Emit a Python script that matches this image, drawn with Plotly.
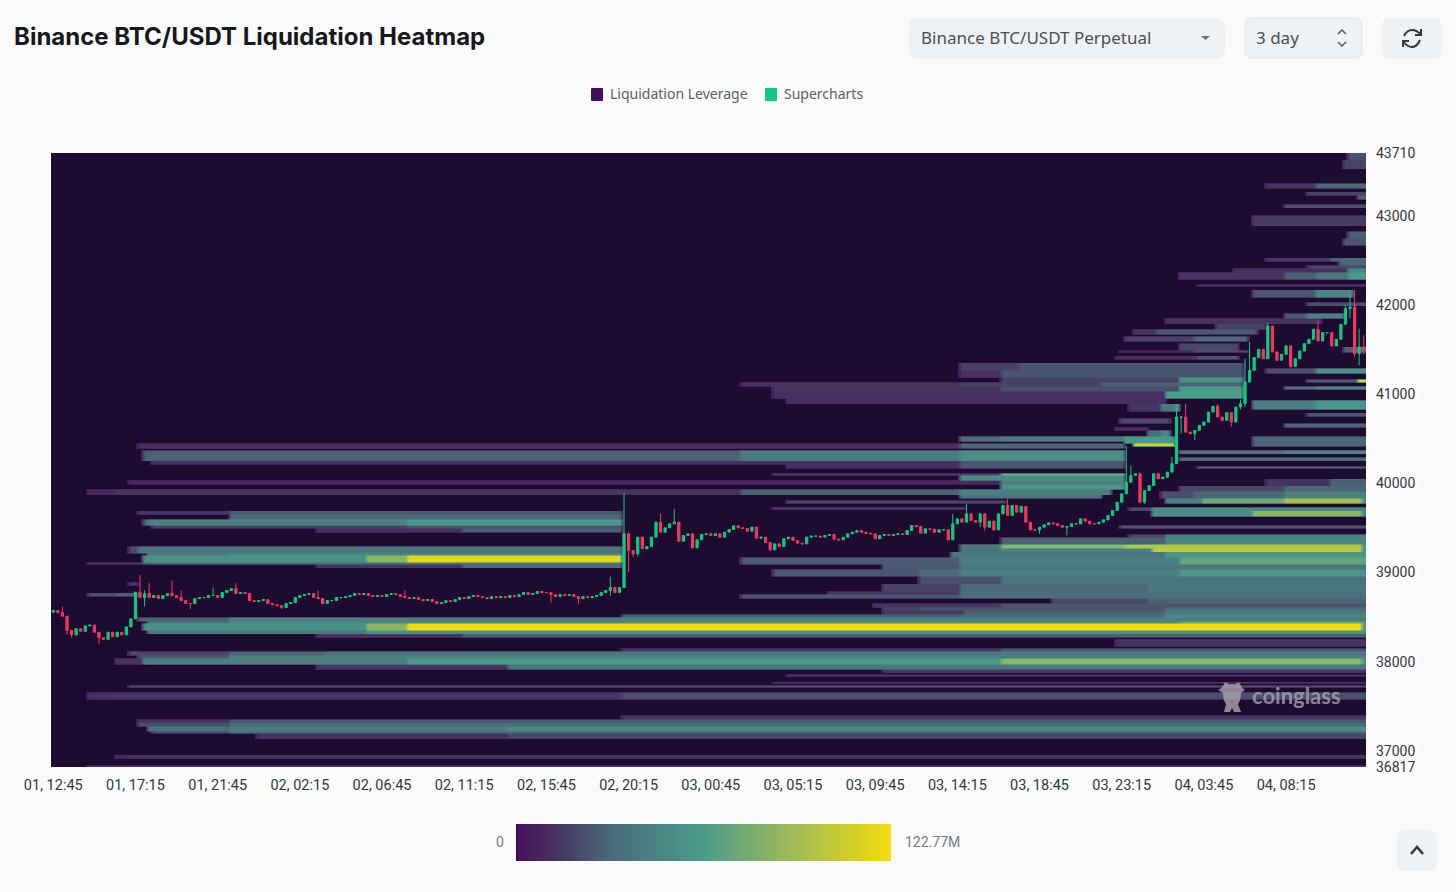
import re
import plotly.graph_objects as go

# ---- data ----
time_ticks = [0, 18, 36, 54, 72, 90, 108, 126, 144, 162, 180, 198, 216, 234, 252, 270]
time_labels = ["01, 12:45", "01, 17:15", "01, 21:45", "02, 02:15", "02, 06:45", "02, 11:15",
               "02, 15:45", "02, 20:15", "03, 00:45", "03, 05:15", "03, 09:45", "03, 14:15",
               "03, 18:45", "03, 23:15", "04, 03:45", "04, 08:15"]
price_ticks = [36817, 37000, 38000, 39000, 40000, 41000, 42000, 43000, 43710]

first_open = 38555
closes = [
    38575, 38550, 38510, 38350, 38300, 38370, 38340, 38400, 38410, 38330,
    38270, 38250, 38330, 38280, 38330, 38300, 38390, 38480, 38780, 38719,
    38764, 38719, 38742, 38708, 38742, 38764, 38742, 38719, 38685, 38652,
    38652, 38708, 38719, 38719, 38742, 38742, 38719, 38775, 38798, 38820,
    38764, 38775, 38764, 38685, 38674, 38685, 38697, 38652, 38640, 38629,
    38607, 38652, 38663, 38719, 38742, 38753, 38764, 38719, 38708, 38652,
    38685, 38685, 38719, 38719, 38730, 38742, 38764, 38753, 38764, 38742,
    38730, 38742, 38730, 38753, 38764, 38753, 38730, 38719, 38708, 38719,
    38697, 38685, 38697, 38674, 38652, 38663, 38685, 38674, 38697, 38719,
    38708, 38730, 38742, 38730, 38719, 38708, 38730, 38719, 38730, 38719,
    38742, 38730, 38753, 38775, 38753, 38764, 38787, 38775, 38775, 38753,
    38730, 38753, 38742, 38753, 38730, 38708, 38730, 38719, 38730, 38742,
    38775, 38798, 38831, 38775, 38831, 39435, 39247, 39210, 39397, 39266,
    39292, 39397, 39566, 39453, 39502, 39547, 39566, 39352, 39416, 39435,
    39277, 39367, 39427, 39435, 39416, 39435, 39397, 39453, 39483, 39525,
    39502, 39495, 39465, 39510, 39386, 39397, 39337, 39255, 39322, 39292,
    39379, 39397, 39360, 39330, 39322, 39397, 39409, 39409, 39397, 39416,
    39427, 39375, 39367, 39397, 39435, 39453, 39472, 39453, 39442, 39435,
    39379, 39416, 39427, 39416, 39427, 39435, 39427, 39472, 39528, 39517,
    39442, 39491, 39487, 39453, 39480, 39480, 39367, 39547, 39603, 39566,
    39659, 39584, 39566, 39659, 39509, 39577, 39479, 39659, 39753, 39640,
    39753, 39678, 39742, 39566, 39479, 39479, 39509, 39536, 39558, 39547,
    39528, 39509, 39517, 39547, 39547, 39603, 39577, 39547, 39547, 39566,
    39592, 39640, 39697, 39790, 39884, 40015, 40090, 40109, 39790, 39921,
    39977, 40109, 40052, 40071, 40127, 40222, 40746, 40746, 40577, 40559,
    40596, 40652, 40690, 40802, 40866, 40746, 40708, 40795, 40690, 40858,
    40896, 41139, 41270, 41413, 41506, 41401, 41768, 41476, 41383, 41450,
    41544, 41315, 41401, 41487, 41570, 41619, 41731, 41600, 41693, 41693,
    41544, 41619, 41787, 41963, 41982, 41458, 41532, 41495,
]

# the longer wicks, by candle number
high_cols = [2, 19, 20, 21, 26, 28, 35, 40, 58, 77, 122, 125, 126, 133, 136, 197, 200, 209, 235, 236,
             238, 245, 246, 248, 255, 260, 261, 262, 266, 267, 277, 283, 284, 285, 286, 287]
high_prices = [38618, 38970, 38800, 38880, 38910, 38800, 38830, 38880, 38800, 38800, 38955, 39890, 39450,
               39660, 39716, 39660, 39771, 39828, 40420, 40200, 40125, 40300, 40840, 40896, 40890, 40940,
               41401, 41588, 41810, 41738, 41832, 42000, 42132, 42169, 41738, 41663]
low_cols = [3, 4, 10, 12, 20, 30, 50, 109, 115, 122, 125, 126, 127, 128, 140, 157, 203, 204, 206, 216,
            222, 235, 238, 239, 247, 250, 258, 260, 261, 262, 266, 271, 284, 285, 286, 287]
low_prices = [38300, 38270, 38200, 38240, 38620, 38590, 38590, 38660, 38650, 38740, 38830, 39004, 39170,
              39180, 39270, 39240, 39510, 39470, 39470, 39434, 39416, 39890, 39780, 39771, 40560, 40484,
              40640, 40830, 40858, 41200, 41410, 41300, 41850, 41420, 41327, 41450]

# liquidation bands: price range, last candle, and (candle, $M) steps as the level builds up
band_high = [
    43708, 43629, 43382, 43270, 43236, 43146, 43011, 42843, 42764, 42539, 42506, 42449, 42427, 42371, 42247,
    42169, 42034, 41910, 41854, 41798, 41742, 41663, 41584, 41506, 41438, 41528, 41348, 41270, 41191, 41135,
    41101, 41045, 40966, 40899, 40730, 40629, 40596, 41303, 41180, 41101, 40933, 40798, 40674, 40539, 40371,
    40292, 40202, 40056, 39978, 39921, 39843, 39742, 39697, 40539, 40528, 40461, 40449, 40382, 40258, 40225,
    40124, 40090, 40034, 39989, 39944, 39876, 39820, 39730, 39697, 39652, 39607, 39528, 39494, 39303, 39225,
    39200, 39125, 39101, 38888, 38787, 39528, 39438, 39393, 39315, 39281, 39236, 39169, 39090, 39045, 38955,
    38876, 38798, 38753, 38719, 38663, 38618, 38584, 38539, 38494, 38461, 38440, 38360, 38326, 38259, 38157,
    38112, 38079, 38034, 37978, 37921, 37865, 37787, 37730, 37652, 37393, 37360, 37315, 37270, 37225, 37191,
    36966, 36832,
]
band_low = [
    43629, 43539, 43326, 43236, 43191, 43101, 42899, 42764, 42685, 42506, 42449, 42427, 42371, 42303, 42213,
    42090, 42000, 41865, 41798, 41742, 41674, 41607, 41506, 41483, 41404, 41472, 41270, 41191, 41135, 41101,
    41045, 40966, 40899, 40820, 40685, 40596, 40539, 41247, 41146, 41067, 40843, 40764, 40629, 40427, 40337,
    40258, 40169, 39978, 39921, 39843, 39787, 39697, 39640, 40483, 40461, 40427, 40393, 40258, 40213, 40169,
    40090, 40034, 40000, 39944, 39876, 39831, 39787, 39708, 39663, 39607, 39528, 39494, 39449, 39225, 39200,
    39125, 39101, 39067, 38854, 38742, 39494, 39393, 39315, 39281, 39236, 39169, 39101, 39045, 38966, 38876,
    38798, 38753, 38719, 38663, 38618, 38584, 38539, 38494, 38461, 38440, 38360, 38326, 38281, 38168, 38124,
    38079, 38034, 37978, 37921, 37876, 37843, 37753, 37708, 37584, 37360, 37315, 37281, 37225, 37191, 37146,
    36910, 36817,
]
band_end = [
    288, 288, 288, 288, 288, 288, 288, 288, 288, 288, 288, 288, 288, 288, 288,
    285, 288, 283, 278, 266, 264, 262, 260, 262, 260, 288, 261, 261, 261, 261,
    261, 261, 244, 247, 245, 240, 245, 288, 288, 288, 288, 288, 288, 288, 288,
    288, 288, 288, 288, 288, 288, 288, 288, 235, 246, 246, 235, 235, 235, 235,
    235, 235, 235, 235, 232, 230, 209, 200, 125, 125, 125, 125, 125, 125, 125,
    125, 125, 125, 19, 19, 288, 288, 288, 288, 288, 288, 288, 288, 288, 288,
    288, 288, 288, 288, 288, 288, 288, 288, 288, 288, 288, 288, 288, 288, 288,
    288, 288, 288, 288, 288, 288, 288, 288, 288, 288, 288, 288, 288, 288, 288,
    288, 288,
]
band_steps = [
    [(284, 22)], [(283, 18)], [(266, 14), (277, 32)], [(275, 18)], [(286, 30)], [(270, 22)], [(263, 16)],
    [(284, 28)], [(283, 25)], [(266, 15), (280, 30)], [(282, 30)], [(275, 20)], [(259, 12), (284, 50)],
    [(247, 14), (270, 28), (277, 38), (284, 60)], [(251, 14)],
    [(263, 25), (277, 50)], [(275, 22)], [(270, 26), (275, 45)], [(244, 13)], [(255, 18)], [(237, 14), (242, 26)],
    [(235, 18), (250, 30)], [(247, 20)], [(234, 10), (250, 22)], [(233, 12), (251, 24)], [(283, 28)],
    [(199, 18), (212, 24)], [(199, 13), (208, 24)], [(208, 18), (247, 55)], [(151, 12), (199, 18), (230, 28)],
    [(158, 14), (208, 22), (247, 60)], [(158, 12), (244, 62)], [(161, 12)], [(236, 14), (243, 40), (246, 55)],
    [(234, 20)], [(233, 12)], [(240, 35), (243, 50)],
    [(266, 22), (277, 52)], [(275, 25), (286, 115)], [(270, 35), (277, 50)], [(263, 45), (277, 58)], [(275, 25)],
    [(270, 30)], [(263, 30)], [(247, 40), (270, 50)], [(247, 32)], [(251, 28)], [(266, 14), (280, 28)],
    [(247, 20), (270, 30)], [(243, 22), (250, 30), (270, 45)], [(244, 45), (252, 75), (270, 95), (287, 50)],
    [(236, 20), (241, 50)], [(241, 52), (263, 85), (287, 50)],
    [(199, 35), (208, 45)], [(235, 60)], [(237, 110)], [(19, 12), (199, 30)], [(20, 28), (151, 42), (199, 52)],
    [(22, 12), (199, 25)], [(161, 12), (199, 25)], [(158, 18), (208, 78)], [(199, 52)], [(17, 10), (208, 45)],
    [(208, 55)], [(8, 9), (14, 13), (151, 30), (199, 45)], [(199, 38)], [(161, 20)], [(158, 18)],
    [(19, 15), (39, 25)], [(39, 30)], [(20, 30), (21, 45), (78, 60)], [(22, 18), (78, 25)], [(58, 12), (90, 28)],
    [(17, 20), (19, 38)], [(21, 40), (39, 50)], [(20, 55), (69, 85), (78, 118)],
    [(8, 12), (14, 14), (20, 30), (58, 35)], [(58, 14), (90, 30)], [(17, 15)], [(8, 22), (14, 28)],
    [(234, 25)], [(236, 20), (244, 45)], [(208, 28), (244, 50)], [(199, 40), (208, 85), (235, 100), (287, 55)],
    [(199, 35), (208, 45), (241, 105), (287, 55)], [(197, 40), (244, 58)], [(151, 26), (199, 44), (247, 70)],
    [(182, 25), (199, 38)], [(158, 25), (190, 32), (199, 44), (247, 58)], [(190, 22), (208, 36)],
    [(182, 18), (199, 30), (240, 40)], [(170, 15), (199, 34)], [(151, 25), (199, 34)], [(219, 20), (240, 28)],
    [(180, 14), (208, 25)], [(182, 18), (190, 24), (244, 32)], [(182, 15), (200, 28), (244, 42)],
    [(125, 28), (199, 32), (244, 50)], [(19, 28), (39, 45)], [(21, 40), (39, 50), (247, 68)],
    [(20, 55), (69, 85), (78, 122), (287, 60)], [(21, 40), (69, 55)], [(58, 14), (90, 28)], [(233, 14)],
    [(125, 14), (208, 25)], [(17, 20), (39, 30), (60, 40)], [(19, 25), (39, 45)],
    [(14, 14), (20, 45), (78, 60), (208, 85), (287, 55)],
    [(58, 14), (100, 40)], [(182, 14)], [(161, 12)], [(158, 14)], [(17, 22)], [(8, 12), (14, 14), (125, 22)],
    [(125, 14)], [(19, 14), (39, 25)], [(19, 22), (39, 32)], [(21, 35), (39, 42), (100, 50)], [(22, 20), (39, 30)],
    [(45, 12), (100, 20)], [(14, 10), (17, 14)], [(8, 13)],
]

PRICE_MIN, PRICE_MAX = 36817, 43710
PRICE_BIN = 20
Z_MAX = 122.77

# ---- build the traces ----
cols = list(range(len(closes)))
opens = [first_open] + closes[:-1]
highs = [max(o, c) for o, c in zip(opens, closes)]
lows = [min(o, c) for o, c in zip(opens, closes)]
for c, p in zip(high_cols, high_prices):
    highs[c] = max(highs[c], p)
for c, p in zip(low_cols, low_prices):
    lows[c] = min(lows[c], p)

bin_prices = list(range(PRICE_MIN + PRICE_BIN // 2, PRICE_MAX, PRICE_BIN))
z = [[0.0] * len(cols) for _ in bin_prices]
for hi, lo, end, steps in zip(band_high, band_low, band_end, band_steps):
    for r, price in enumerate(bin_prices):
        if not lo <= price < hi:
            continue
        for i, (start, value) in enumerate(steps):
            stop = steps[i + 1][0] if i + 1 < len(steps) else end
            for c in range(start, min(stop, end, len(cols))):
                z[r][c] = value

colorscale = [
    [0.0, "#1e0b30"], [0.004, "#44135f"], [0.1, "#47305f"], [0.25, "#4a6a78"],
    [0.5, "#4a9c8a"], [0.75, "#a5bc54"], [1.0, "#f2dc0c"],
]

fig = go.Figure()
fig.add_trace(go.Heatmap(
    x=cols, y=bin_prices, z=z, zmin=0, zmax=Z_MAX, colorscale=colorscale, name="Liquidation Leverage",
    hoverinfo="skip", zsmooth="best",
    colorbar=dict(orientation="h", xref="paper", yref="paper", x=(516 - 51) / 1315, xanchor="left",
                  y=(767 - 861) / 614, yanchor="bottom", len=375, lenmode="pixels", thickness=37,
                  thicknessmode="pixels", outlinewidth=0, borderwidth=0, showticklabels=False, ticks="",
                  xpad=0, ypad=0),
))
fig.add_trace(go.Candlestick(
    x=cols, open=opens, high=highs, low=lows, close=closes, name="Supercharts", whiskerwidth=0,
    increasing=dict(line=dict(color="#0ecb81", width=1), fillcolor="#0ecb81"),
    decreasing=dict(line=dict(color="#f0395d", width=1), fillcolor="#f0395d"),
    showlegend=False,
))


# ---- page furniture, placed in screen pixels ----
def px_x(v):
    return (v - 51) / 1315


def px_y(v):
    return (767 - v) / 614


def px_path(s):
    return re.sub(r"(-?[\d.]+),(-?[\d.]+)", lambda m: f"{px_x(float(m[1])):.5f},{px_y(float(m[2])):.5f}", s)


def round_rect(x0, y0, x1, y1, r):
    return px_path(f"M {x0 + r},{y0} L {x1 - r},{y0} Q {x1},{y0} {x1},{y0 + r} L {x1},{y1 - r} Q {x1},{y1} {x1 - r},{y1} "
                   f"L {x0 + r},{y1} Q {x0},{y1} {x0},{y1 - r} L {x0},{y0 + r} Q {x0},{y0} {x0 + r},{y0} Z")


def box(path, fill="#eff2f5", line=None, width=1):
    return dict(type="path", xref="paper", yref="paper", path=path, fillcolor=fill,
                line=dict(color=line or "rgba(0,0,0,0)", width=width), layer="above")


def stroke(s, color="#33383f", width=2):
    return dict(type="path", xref="paper", yref="paper", path=px_path(s),
                line=dict(color=color, width=width), layer="above")


def label(text, x, y, size=14, color="#33383f", anchor="left", family="Roboto", weight=None):
    # annotation boxes carry about 2px of padding on the left
    x = x - 2 if anchor == "left" else x
    return dict(text=text, x=px_x(x), y=px_y(y), xref="paper", yref="paper", xanchor=anchor, yanchor="middle",
                showarrow=False, font=dict(family=family, size=size, color=color, weight=weight))


MARK = "rgba(170,165,175,0.8)"
shapes = [
    box(round_rect(909, 18, 1225, 59, 9)),
    box(round_rect(1245, 18, 1362, 58, 7), line="#e2e5e9"),
    box(round_rect(1382, 18, 1442, 59, 8)),
    box(round_rect(1397, 830, 1437, 871, 8)),
    box(round_rect(591, 88, 603, 101, 1), fill="#40105f"),
    box(round_rect(765, 88, 777, 101, 1), fill="#0ecb81"),
    box(px_path("M 1201,36 L 1210,36 L 1205.5,40 Z"), fill="#6b7078"),
    stroke("M 1338,34 L 1342,30 L 1346,34", color="#555a61", width=1.5),
    stroke("M 1338,42 L 1342,46 L 1346,42", color="#555a61", width=1.5),
    stroke("M 1404,36 Q 1407,30 1412,30 Q 1417,30 1421,35"),
    stroke("M 1421,29 L 1421,35 L 1415,35"),
    stroke("M 1403,41 Q 1407,47 1412,47 Q 1417,47 1420,40"),
    stroke("M 1403,47 L 1403,41 L 1409,41"),
    stroke("M 1411,854 L 1417,847 L 1423,854", width=2.5),
    box(px_path("M 1218,690 Q 1222,688 1223,686 L 1225,682 L 1229,684 L 1235,684 L 1239,682 L 1241,686 Q 1242,688 1245,690 "
                "L 1241,693 Q 1241,700 1238,704 L 1241,712 L 1234,712 L 1232,708 L 1230,712 L 1224,712 L 1226,704 "
                "Q 1223,700 1223,693 Z"), fill=MARK),
]
annotations = [
    label("Binance BTC/USDT Liquidation Heatmap", 14, 37, size=24, color="#15181c", family="Inter", weight=700),
    label("Binance BTC/USDT Perpetual", 921, 38, size=17, color="#4a4f57", family="Noto Sans"),
    label("3 day", 1256, 38, size=17, color="#4a4f57", family="Noto Sans"),
    label("Liquidation Leverage", 610, 94, size=14, color="#5a5f66", family="Noto Sans"),
    label("Supercharts", 784, 94, size=14, color="#5a5f66", family="Noto Sans"),
    label("0", 500, 842, size=14, color="#777c83", anchor="center"),
    label("122.77M", 905, 842, size=14, color="#777c83"),
    label("coinglass", 1252, 695, size=22, color=MARK, family="Lato", weight=700),
]

fig.update_layout(
    width=1456, height=892,
    margin=dict(l=51, r=90, t=153, b=125, autoexpand=False),
    paper_bgcolor="#fafafa", plot_bgcolor="#1e0b30",
    showlegend=False,
    shapes=shapes, annotations=annotations,
    font=dict(family="Roboto", size=14, color="#33383f"),
    xaxis=dict(range=[-0.5, 287.5], tickmode="array", tickvals=time_ticks, ticktext=time_labels, showgrid=False,
               zeroline=False, ticks="", ticklabelstandoff=7, tickfont=dict(size=14.5),
               rangeslider=dict(visible=False)),
    yaxis=dict(range=[PRICE_MIN, PRICE_MAX], side="right", tickmode="array", tickvals=price_ticks,
               showgrid=False, zeroline=False, ticks="", ticklabelstandoff=9, tickformat="d"),
)

fig.write_html("out.html", config={"displayModeBar": False},
               post_script="document.body.style.margin='0';document.body.style.background='#fafafa';")
